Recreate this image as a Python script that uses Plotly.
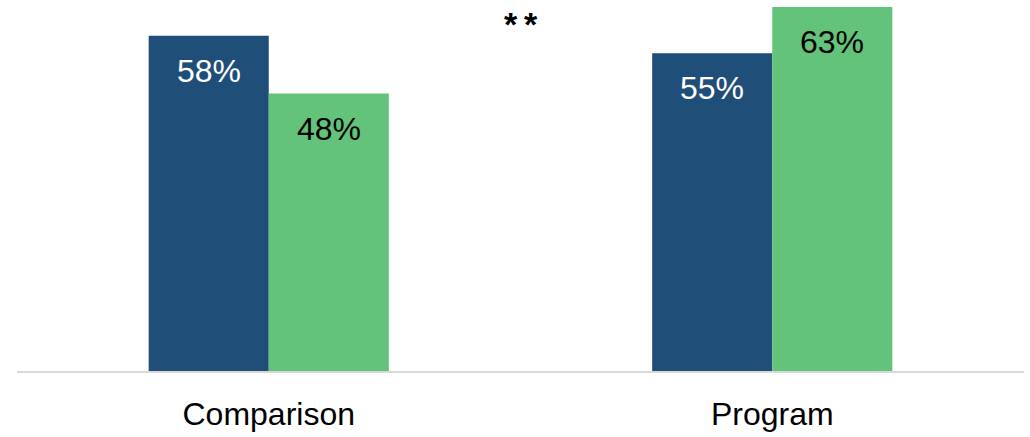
import plotly.graph_objects as go

categories = ["Comparison", "Program"]
series_a = [0.58, 0.55]   # dark blue bars
series_b = [0.48, 0.63]   # green bars
blue = "#1F4E79"
green = "#63C37A"
font_family = "Liberation Sans Narrow, Arial Narrow, Liberation Sans, Arial, sans-serif"

fig = go.Figure()
fig.add_trace(go.Bar(x=categories, y=series_a, marker_color=blue, marker_line_width=0,
                     hoverinfo="skip"))
fig.add_trace(go.Bar(x=categories, y=series_b, marker_color=green, marker_line_width=0,
                     hoverinfo="skip"))

# value labels sitting inside the top of each bar
half = 0.119
for i, (a, b) in enumerate(zip(series_a, series_b)):
    fig.add_annotation(x=i - half, y=a, text=f"{a:.0%}", showarrow=False,
                       yanchor="middle", yshift=-35,
                       font=dict(family=font_family, size=32, color="white"))
    fig.add_annotation(x=i + half, y=b, text=f"{b:.0%}", showarrow=False,
                       yanchor="middle", yshift=-35,
                       font=dict(family=font_family, size=32, color="black"))

# significance marker
fig.add_annotation(x=0.5, xref="paper", y=1, yref="paper", yanchor="top", yshift=-3,
                   text="<b>*\u2009*</b>", showarrow=False,
                   font=dict(family="Liberation Sans, Arial", size=34, color="black"))

fig.update_layout(
    width=1030, height=437,
    margin=dict(l=17, r=6, t=0, b=66),
    barmode="group", bargap=0.523, bargroupgap=0,
    showlegend=False,
    plot_bgcolor="white", paper_bgcolor="white",
    font=dict(family=font_family, size=32, color="black"),
)
fig.update_xaxes(showline=True, linecolor="#d9d9d9", linewidth=2,
                 ticks="outside", ticklen=14, tickcolor="rgba(0,0,0,0)",
                 tickfont=dict(family=font_family, size=32, color="black"))
fig.update_yaxes(range=[0, 0.642], visible=False, showgrid=False, zeroline=False)

# drop the browser's default body margin so the figure fills the window
fig.write_html("out.html", config={"displayModeBar": False},
               post_script="document.body.style.margin='0';")
